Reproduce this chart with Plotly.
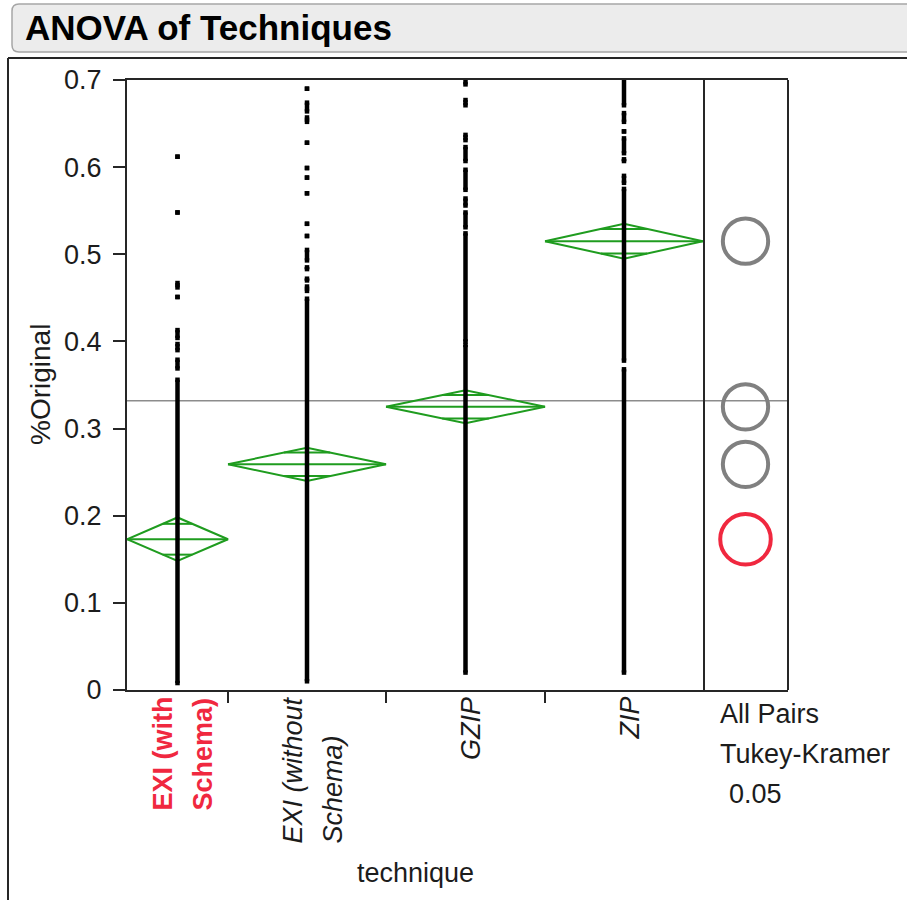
import math
import plotly.graph_objects as go

# ---------------------------------------------------------------- data
categories = ["EXI (with Schema)", "EXI (without Schema)", "GZIP", "ZIP"]
category_lines = [["EXI (with", "Schema)"], ["EXI (without", "Schema)"], ["GZIP"], ["ZIP"]]
# relative group widths (JMP spaces groups by sample size)
group_weight = [101, 158, 159, 158]

group_mean = [0.173, 0.259, 0.325, 0.515]
ci_half = [0.025, 0.019, 0.019, 0.020]          # 95% CI half-width of each mean
circle_radius = [0.029, 0.026, 0.026, 0.026]     # Tukey-Kramer comparison circles
selected = [True, False, False, False]
grand_mean = 0.332

# observed %Original values: dense runs (lo, hi) and isolated points (lo == hi)
obs_exi_schema = [(0.008, 0.356), (0.369, 0.379), (0.390, 0.397), (0.404, 0.413),
                  (0.451, 0.451), (0.462, 0.467), (0.548, 0.548), (0.612, 0.612)]
obs_exi_noschema = [(0.010, 0.449), (0.458, 0.463), (0.470, 0.472), (0.483, 0.485),
                    (0.493, 0.505), (0.521, 0.521), (0.535, 0.535), (0.570, 0.570),
                    (0.588, 0.588), (0.599, 0.599), (0.628, 0.628), (0.652, 0.657),
                    (0.664, 0.674), (0.690, 0.690)]
obs_gzip = [(0.020, 0.396), (0.400, 0.524), (0.531, 0.548), (0.556, 0.564),
            (0.574, 0.597), (0.607, 0.623), (0.631, 0.637), (0.671, 0.677),
            (0.695, 0.704)]
obs_zip = [(0.020, 0.368), (0.378, 0.575), (0.582, 0.590), (0.607, 0.609),
           (0.616, 0.633), (0.641, 0.641), (0.652, 0.662), (0.671, 0.704)]
observations = [obs_exi_schema, obs_exi_noschema, obs_gzip, obs_zip]

y_ticks = [0, 0.1, 0.2, 0.3, 0.4, 0.5, 0.6, 0.7]
y_tick_labels = ["0", "0.1", "0.2", "0.3", "0.4", "0.5", "0.6", "0.7"]

# ---------------------------------------------------------------- layout constants (px)
W, H = 907, 900
PLOT_L, PLOT_R, PANEL_R = 127, 703, 788
PLOT_T, PLOT_B = 80, 690
Y_MAX = 0.7
FONT = "Arial, Liberation Sans, sans-serif"
INK = "#1c1c1c"
LINE = "#262626"
GREEN = "#1f9c1f"
GREY = "#808080"
RED = "#f0283f"


def px(x):
    return x / W


def py(y):
    return 1 - y / H


px_per_unit = (PLOT_B - PLOT_T) / Y_MAX
total = sum(group_weight)
bounds = [sum(group_weight[:i]) for i in range(len(group_weight) + 1)]
centers = [(bounds[i] + bounds[i + 1]) / 2 for i in range(len(group_weight))]
panel_range = (PANEL_R - PLOT_R) / px_per_unit
panel_center = panel_range / 2

fig = go.Figure()

# means diamonds with overlap marks
dx, dy = [], []
k = 1 / math.sqrt(2)
for c, w, m, h in zip(centers, group_weight, group_mean, ci_half):
    L, R = c - w / 2, c + w / 2
    dx += [L, c, R, c, L, None, L, R, None]
    dy += [m, m + h, m, m - h, m, None, m, m, None]
    half = (1 - k) * w / 2
    for s in (1, -1):
        dx += [c - half, c + half, None]
        dy += [m + s * h * k, m + s * h * k, None]
fig.add_trace(go.Scatter(x=dx, y=dy, mode="lines", line=dict(color=GREEN, width=2),
                         hoverinfo="skip", showlegend=False))

# observations
ox, oy = [], []
for c, runs in zip(centers, observations):
    for lo, hi in runs:
        ox += [c, c, None]
        oy += [lo, hi, None]
fig.add_trace(go.Scatter(x=ox, y=oy, mode="lines+markers",
                         line=dict(color="black", width=4.5),
                         marker=dict(symbol="square", size=4.5, color="black"),
                         cliponaxis=False, hoverinfo="skip", showlegend=False))

# comparison-circle panel trace (keeps xaxis2 alive)
fig.add_trace(go.Scatter(x=[panel_center], y=[grand_mean], xaxis="x2", yaxis="y",
                         mode="markers", marker=dict(opacity=0), hoverinfo="skip",
                         showlegend=False))

shapes = []
# grand mean line
shapes.append(dict(type="line", xref="paper", yref="y", x0=px(PLOT_L), x1=px(PANEL_R),
                   y0=grand_mean, y1=grand_mean, line=dict(color="#8c8c8c", width=1.5),
                   layer="below"))
# comparison circles
for m, r, sel in zip(group_mean, circle_radius, selected):
    shapes.append(dict(type="circle", xref="x2", yref="y",
                       x0=panel_center - r, x1=panel_center + r, y0=m - r, y1=m + r,
                       line=dict(color=RED if sel else GREY, width=4)))
# panel right border
shapes.append(dict(type="line", xref="paper", yref="paper", x0=px(PANEL_R), x1=px(PANEL_R),
                   y0=py(PLOT_B), y1=py(PLOT_T), line=dict(color=LINE, width=2)))
# outline frame of the report
shapes.append(dict(type="line", xref="paper", yref="paper", x0=px(8), x1=px(8),
                   y0=py(58), y1=py(905), line=dict(color=LINE, width=2)))
shapes.append(dict(type="line", xref="paper", yref="paper", x0=px(8), x1=px(915),
                   y0=py(58), y1=py(58), line=dict(color=LINE, width=2)))
# header bar with rounded corners
hx0, hx1, hy0, hy1, rr = 12, 930, 4, 52, 7
path = (f"M {px(hx0 + rr)},{py(hy0)} L {px(hx1)},{py(hy0)} L {px(hx1)},{py(hy1)} "
        f"L {px(hx0 + rr)},{py(hy1)} Q {px(hx0)},{py(hy1)} {px(hx0)},{py(hy1 - rr)} "
        f"L {px(hx0)},{py(hy0 + rr)} Q {px(hx0)},{py(hy0)} {px(hx0 + rr)},{py(hy0)} Z")
shapes.append(dict(type="path", xref="paper", yref="paper", path=path,
                   fillcolor="#ececec", line=dict(color="#a6a6a6", width=1.5)))

annotations = []
annotations.append(dict(text="<b>ANOVA of Techniques</b>", xref="paper", yref="paper",
                        x=px(23), y=py(28), xanchor="left", yanchor="middle",
                        showarrow=False, font=dict(family=FONT, size=35, color="black")))
# category labels, rotated
for i, (c, lines) in enumerate(zip(centers, category_lines)):
    if selected[i]:
        body = "<br>".join(f"<span style='font-size:27px'><b>{t}</b></span>" for t in lines)
        col = RED
    else:
        body = "<br>".join(f"<span style='font-size:27px'><i>{t}</i></span>" for t in lines)
        col = INK
    annotations.append(dict(text=body, xref="x", yref="paper", x=c, y=py(PLOT_B + 5),
                            xanchor="center", yanchor="top", textangle=-90, align="left",
                            showarrow=False, xshift=5,
                            font=dict(family=FONT, size=31, color=col)))
annotations.append(dict(text="technique", xref="paper", yref="paper",
                        x=px((PLOT_L + PLOT_R) / 2), y=py(873), xanchor="center",
                        yanchor="middle", showarrow=False,
                        font=dict(family=FONT, size=27, color=INK)))
annotations.append(dict(text="%Original", xref="paper", yref="paper", x=px(40),
                        y=py((PLOT_T + PLOT_B) / 2), xanchor="center", yanchor="middle",
                        textangle=-90, showarrow=False,
                        font=dict(family=FONT, size=28, color=INK)))
for t, yy, xx in [("All Pairs", 714, 718), ("Tukey-Kramer", 754, 718), ("0.05", 794, 727)]:
    annotations.append(dict(text=t, xref="paper", yref="paper", x=px(xx), y=py(yy),
                            xanchor="left", yanchor="middle", showarrow=False,
                            font=dict(family=FONT, size=27, color=INK)))

fig.update_layout(
    width=W, height=H, margin=dict(l=0, r=0, t=0, b=0, autoexpand=False),
    paper_bgcolor="white", plot_bgcolor="white", showlegend=False,
    xaxis=dict(domain=[px(PLOT_L), px(PLOT_R)], range=[0, total], showgrid=False,
               zeroline=False, showline=True, linecolor=LINE, linewidth=2, mirror=True,
               ticks="outside", tickvals=bounds[1:-1], ticklen=11, tickwidth=2,
               tickcolor=LINE, showticklabels=False, fixedrange=True, automargin=False),
    xaxis2=dict(domain=[px(PLOT_R), px(PANEL_R)], range=[0, panel_range], anchor="y",
                showgrid=False, zeroline=False, showline=True, linecolor=LINE, linewidth=2,
                mirror=True, ticks="", showticklabels=False, fixedrange=True,
                automargin=False),
    yaxis=dict(domain=[py(PLOT_B), py(PLOT_T)], range=[0, Y_MAX], showgrid=False,
               zeroline=False, showline=True, linecolor=LINE, linewidth=2, mirror=True,
               ticks="outside", tickvals=y_ticks, ticktext=y_tick_labels, ticklen=12,
               tickwidth=2, tickcolor=LINE, ticklabelstandoff=6, automargin=False,
               tickfont=dict(family=FONT, size=27, color=INK), fixedrange=True),
    shapes=shapes, annotations=annotations,
)

fig.write_html("out.html")
